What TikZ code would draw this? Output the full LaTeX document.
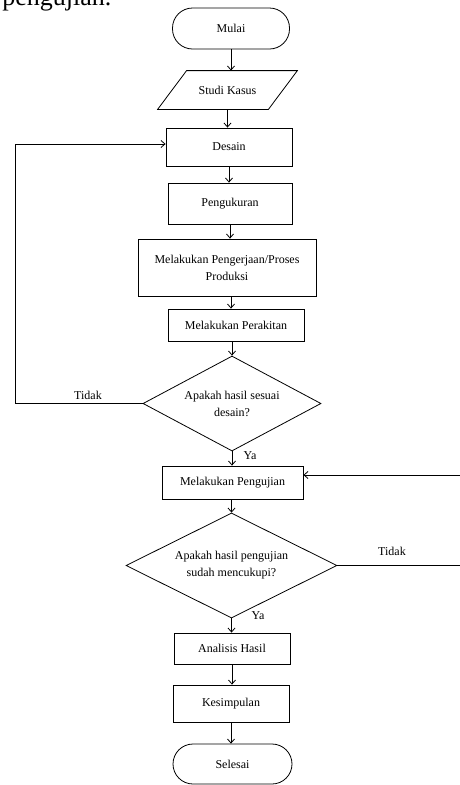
\documentclass[tikz,border=0pt]{standalone}
\usepackage{fontspec}
\setmainfont{Liberation Serif}
\usetikzlibrary{shapes.geometric,arrows.meta}
\begin{document}
\begin{tikzpicture}[x=1pt,y=-1pt,
  font=\fontsize{12}{17}\selectfont,
  line width=0.8pt,
  arr/.style={-{Straight Barb[length=4pt,width=7pt]}},
  procbox/.style={draw, rectangle, align=center, inner sep=2pt},
  termbox/.style={draw, rectangle, rounded corners=20pt, align=center},
  decbox/.style={draw, diamond, align=center, inner sep=0pt},
  lbl/.style={inner sep=1pt}]
\useasboundingbox (0,0) rectangle (460,785);
\clip (0,0) rectangle (460,785);
\node[anchor=base west, font=\fontsize{26}{30}\selectfont, inner sep=0pt] (head) at (2,5) {pengujian.};
\node[termbox, minimum width=117pt, minimum height=41pt] (mulai) at (231,28.5) {Mulai};
\node[minimum width=110pt, minimum height=38pt, inner sep=0pt] (studi) at (227.5,90) {Studi Kasus};
\draw ([xshift=14.5pt]studi.north west) -- ([xshift=14.5pt]studi.north east)
  -- ([xshift=-14.5pt]studi.south east) -- ([xshift=-14.5pt]studi.south west) -- cycle;
\node[procbox, minimum width=126pt, minimum height=38pt] (desain) at (229,147) {Desain};
\node[procbox, minimum width=124pt, minimum height=41pt] (ukur) at (230,203.5) {Pengukuran};
\node[procbox, minimum width=178pt, minimum height=57pt] (prod) at (227,267.5) {Melakukan Pengerjaan/Proses\\Produksi};
\node[procbox, minimum width=136pt, minimum height=32pt] (rakit) at (236,325) {Melakukan Perakitan};
\node[decbox, aspect=1.87, minimum width=178pt, minimum height=95pt] (d1) at (232,403.5) {Apakah hasil sesuai\\desain?};
\node[procbox, minimum width=141pt, minimum height=33pt] (uji) at (232.5,482.5) {Melakukan Pengujian};
\node[decbox, aspect=2.0, minimum width=211pt, minimum height=105pt] (d2) at (231.5,565.5) {Apakah hasil pengujian\\sudah mencukupi?};
\node[procbox, minimum width=116pt, minimum height=31pt] (anal) at (232,648.5) {Analisis Hasil};
\node[procbox, minimum width=116pt, minimum height=37pt] (simp) at (231,703.5) {Kesimpulan};
\node[termbox, minimum width=119pt, minimum height=40pt] (selesai) at (232.5,764) {Selesai};

\draw[arr] (mulai.south) -- (mulai.south |- studi.north);
\draw[arr] (studi.south) -- (studi.south |- desain.north);
\draw[arr] (desain.south) -- (desain.south |- ukur.north);
\draw[arr] (ukur.south) -- (ukur.south |- prod.north);
\draw[arr] (prod.south) ++(4pt,0) coordinate (ps) -- (ps |- rakit.north);
\draw[arr] (rakit.south -| d1.north) -- (d1.north);
\draw[arr] (d1.south) -- (d1.south |- uji.north);
\draw[arr] (uji.south -| d2.north) -- (d2.north);
\draw[arr] (d2.south) -- (d2.south |- anal.north);
\draw[arr] (anal.south) -- (anal.south |- simp.north);
\draw[arr] (simp.south) -- (simp.south |- selesai.north);

\coordinate (l1) at (15,403.5);
\coordinate (l2) at (15,144);
\draw[arr] (d1.west) -- (l1) -- (l2) -- (l2 -| desain.west);
\coordinate (r1) at (470,565.5);
\coordinate (r2) at (470,475);
\draw[arr] (d2.east) -- (r1) -- (r2) -- (r2 -| uji.east);

\node[lbl] (t1) at (88,395) {Tidak};
\node[lbl] (y1) at (250,456) {Ya};
\node[lbl] (t2) at (392,551) {Tidak};
\node[lbl] (y2) at (258,616) {Ya};
\end{tikzpicture}
\end{document}
